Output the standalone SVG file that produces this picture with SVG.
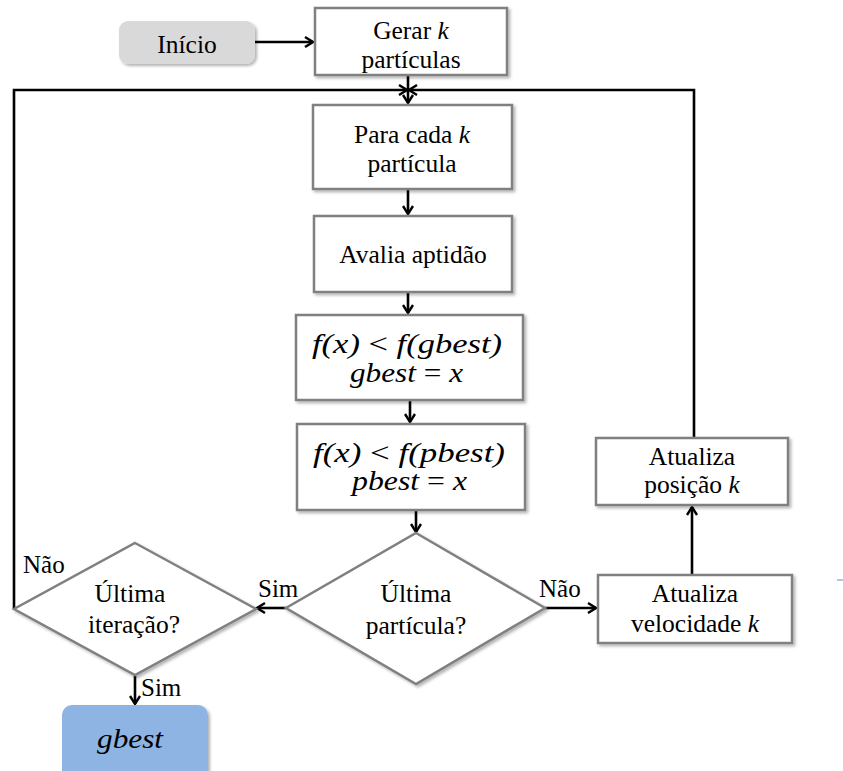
<svg xmlns="http://www.w3.org/2000/svg" width="843" height="771" viewBox="0 0 843 771">
  <style>
    .box { fill: #ffffff; stroke: #808080; stroke-width: 2.5; filter: url(#shadow); }
    .term { stroke: none; filter: url(#shadow); }
    .txt { font-family: "Liberation Serif", "DejaVu Serif", serif; font-size: 25.5px; fill: #000; text-anchor: middle; }
    .math { font-family: "Liberation Serif", "DejaVu Serif", serif; font-style: italic; font-size: 27px; fill: #000; text-anchor: start; }
    .op { font-style: normal; }
    .lbl { font-family: "Liberation Serif", "DejaVu Serif", serif; font-size: 25px; fill: #000; }
    .edge { fill: none; stroke: #000; stroke-width: 2.6; }
    .arr { marker-end: url(#head); }
  </style>
  <defs>
    <filter id="shadow" x="-10%" y="-10%" width="130%" height="140%">
      <feDropShadow dx="2" dy="2" stdDeviation="1.5" flood-color="#000" flood-opacity="0.3"/>
    </filter>
    <marker id="head" viewBox="0 0 12 12" refX="10" refY="6" markerWidth="12" markerHeight="12" markerUnits="userSpaceOnUse" orient="auto">
      <path d="M2,1 L10,6 L2,11" fill="none" stroke="#000" stroke-width="2.4"/>
    </marker>
  </defs>

  <rect width="843" height="771" fill="#ffffff"/>

  <!-- connectors -->
  <g id="connectors">
    <line class="edge arr" x1="255" y1="42" x2="313" y2="42"/>
    <line class="edge arr" x1="408" y1="76" x2="408" y2="103"/>
    <polyline class="edge arr" points="14,609 14,90 407,90"/>
    <polyline class="edge arr" points="694,438 694,90 409,90"/>
    <line class="edge arr" x1="408" y1="190" x2="408" y2="214"/>
    <line class="edge arr" x1="408" y1="293" x2="408" y2="313"/>
    <line class="edge arr" x1="410" y1="401" x2="410" y2="422"/>
    <line class="edge arr" x1="416" y1="511" x2="416" y2="532"/>
    <line class="edge arr" x1="286" y1="608" x2="257" y2="608"/>
    <line class="edge arr" x1="545" y1="608" x2="596" y2="608"/>
    <line class="edge arr" x1="692" y1="575" x2="692" y2="507"/>
    <line class="edge arr" x1="135" y1="676" x2="135" y2="704"/>
    <text class="lbl" x="258" y="597">Sim</text>
    <text class="lbl" x="539" y="597">Não</text>
    <text class="lbl" x="23" y="573">Não</text>
    <text class="lbl" x="141" y="696">Sim</text>
  </g>

  <g id="inicio">
    <rect class="term" x="119" y="21" width="136" height="43" rx="9" fill="#d9d9d9"/>
    <text class="txt" x="187" y="53">Início</text>
  </g>

  <g id="gerar">
    <rect class="box" x="315" y="8" width="192" height="67"/>
    <text class="txt" x="411" y="39">Gerar <tspan font-style="italic">k</tspan></text>
    <text class="txt" x="411" y="68">partículas</text>
  </g>

  <g id="para-cada">
    <rect class="box" x="313" y="105" width="199" height="84"/>
    <text class="txt" x="412" y="143">Para cada <tspan font-style="italic">k</tspan></text>
    <text class="txt" x="412" y="172">partícula</text>
  </g>

  <g id="avalia">
    <rect class="box" x="314" y="216" width="198" height="76"/>
    <text class="txt" x="413" y="263">Avalia aptidão</text>
  </g>

  <g id="gbest-test">
    <rect class="box" x="296" y="315" width="227" height="85"/>
    <text class="math" x="312" y="353" textLength="190" lengthAdjust="spacingAndGlyphs">f(x) <tspan class="op">&lt;</tspan> f(gbest)</text>
    <text class="math" x="350" y="382" textLength="113" lengthAdjust="spacingAndGlyphs">gbest <tspan class="op">=</tspan> x</text>
  </g>

  <g id="pbest-test">
    <rect class="box" x="297" y="424" width="228" height="86"/>
    <text class="math" x="313" y="462" textLength="192" lengthAdjust="spacingAndGlyphs">f(x) <tspan class="op">&lt;</tspan> f(pbest)</text>
    <text class="math" x="352" y="490" textLength="115" lengthAdjust="spacingAndGlyphs">pbest <tspan class="op">=</tspan> x</text>
  </g>

  <g id="ultima-particula">
    <polygon class="box" points="416,533 545,608 416,684 286,608"/>
    <text class="txt" x="416" y="602">Última</text>
    <text class="txt" x="416" y="634">partícula?</text>
  </g>

  <g id="ultima-iteracao">
    <polygon class="box" points="135,543 256,609 135,675 14,609"/>
    <text class="txt" x="130" y="602">Última</text>
    <text class="txt" x="134" y="633">iteração?</text>
  </g>

  <g id="atualiza-velocidade">
    <rect class="box" x="598" y="575" width="194" height="68"/>
    <text class="txt" x="695" y="602">Atualiza</text>
    <text class="txt" x="695" y="632">velocidade <tspan font-style="italic">k</tspan></text>
  </g>

  <g id="atualiza-posicao">
    <rect class="box" x="596" y="438" width="192" height="67"/>
    <text class="txt" x="692" y="465">Atualiza</text>
    <text class="txt" x="692" y="493">posição <tspan font-style="italic">k</tspan></text>
  </g>

  <g id="gbest">
    <rect class="term" x="62" y="705" width="146" height="80" rx="10" fill="#8eb4e3"/>
    <text class="math" x="97" y="748" textLength="66" lengthAdjust="spacingAndGlyphs">gbest</text>
  </g>

  <line x1="837" y1="580" x2="843" y2="580" stroke="#7f9fd0" stroke-width="1.2"/>
</svg>
